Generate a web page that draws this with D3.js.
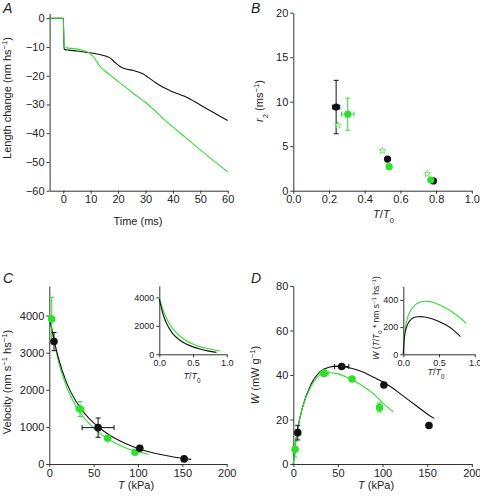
<!DOCTYPE html>
<html><head><meta charset="utf-8">
<script src="https://cdn.jsdelivr.net/npm/d3@7"></script>
<style>body{margin:0;background:#fff}svg{display:block}text{font-family:"Liberation Sans",Arial,sans-serif;fill:#222}</style>
</head><body><svg id="c" width="480" height="497"></svg>
<script>
// ---------- Panel A: length change traces ----------
const aBlackT = [-5, 0, 0.3, 2, 5, 8, 11, 14, 17, 19, 20.7, 23, 25.5, 29.2, 31, 34, 37, 39, 42, 45, 50, 55, 60];
const aBlackL = [0, 0, -10.8, -11.1, -11.4, -11.8, -12.2, -12.8, -13.8, -15.5, -16.8, -17.7, -18.2, -19.4, -20.6, -22.6, -24.3, -25.2, -26.4, -27.5, -30.2, -32.9, -35.6];
const aGreenT = [-5, 0, 0.3, 3, 6, 8, 9.7, 11, 12, 13.4, 15, 17, 20, 25.5, 30.4, 37.7, 45, 50, 55, 60];
const aGreenL = [0, 0, -10.2, -10.5, -10.9, -11.5, -12.2, -13.5, -14.8, -16.8, -18.2, -19.7, -22.0, -26.1, -29.6, -36.0, -41.8, -45.8, -49.7, -53.4];
const aXTicks = [0, 10, 20, 30, 40, 50, 60];
const aYTicks = [0, -10, -20, -30, -40, -50, -60];

// ---------- Panel B: r2 vs T/T0 ----------
const bBlackX = [0.24, 0.528, 0.785], bBlackY = [9.4, 3.55, 1.1], bBlackYErr = [3.0, 0, 0], bBlackXErr = [0.02, 0, 0];
const bGreenX = [0.305, 0.537, 0.77], bGreenY = [8.6, 2.7, 1.2], bGreenYErr = [1.8, 0, 0], bGreenXErr = [0.035, 0, 0];
const bOpenX = [0.25, 0.5, 0.75], bOpenY = [7.35, 4.5, 1.9];
const bXTicks = [0, 0.2, 0.4, 0.6, 0.8, 1.0];
const bYTicks = [0, 5, 10, 15, 20];

// ---------- Panel C: velocity vs T ----------
const cBlackT = [5.3, 55, 102, 152], cBlackV = [3300, 980, 423, 138], cBlackVErr = [245, 260, 0, 0], cBlackTErr = [0, 18, 0, 0];
const cGreenT = [2.7, 34.6, 65.8, 96.6], cGreenV = [3905, 1482, 692, 315], cGreenVErr = [590, 200, 0, 0], cGreenTErr = [0, 4.5, 0, 0];
const cBlackCurveT = [1, 3, 5, 10, 20, 30, 40, 50, 60, 70, 80, 90, 100, 110, 120, 130, 140, 150, 160];
const cBlackCurveV = [3850, 3600, 3380, 2880, 2160, 1690, 1360, 1110, 910, 750, 620, 510, 420, 345, 285, 235, 190, 155, 125];
const cGreenCurveT = [0, 3, 5, 10, 20, 30, 40, 50, 60, 70, 80, 90, 100, 112];
const cGreenCurveV = [4050, 3650, 3400, 2800, 2050, 1560, 1220, 970, 770, 620, 500, 400, 330, 260];
const cXTicks = [0, 50, 100, 150, 200];
const cYTicks = [0, 1000, 2000, 3000, 4000];
// inset C
const ciBlackX = [0, 0.05, 0.1, 0.15, 0.2, 0.3, 0.4, 0.5, 0.6, 0.7, 0.8, 0.85];
const ciBlackV = [3900, 2900, 2250, 1800, 1450, 1000, 720, 520, 370, 260, 170, 140];
const ciGreenX = [0, 0.05, 0.1, 0.15, 0.2, 0.3, 0.4, 0.5, 0.6, 0.7, 0.8, 0.9];
const ciGreenV = [4000, 3200, 2600, 2150, 1800, 1300, 950, 720, 540, 420, 320, 250];
const ciXTicks = [0, 0.5, 1.0];
const ciYTicks = [0, 2000, 4000];

// ---------- Panel D: power vs T ----------
const dBlackT = [5, 54.2, 101.5, 152], dBlackW = [14.1, 43.8, 35.5, 17.3], dBlackWErr = [3.3, 0, 0, 0], dBlackTErr = [0, 8, 0, 0];
const dGreenT = [2, 34.6, 65.8, 96.6], dGreenW = [6.6, 40.8, 38.2, 25.4], dGreenWErr = [3.5, 1.5, 0, 2], dGreenTErr = [0, 4.5, 0, 0];
const dBlackCurveT = [0, 2, 5, 10, 20, 30, 40, 50, 60, 70, 80, 90, 100, 110, 120, 130, 140, 150, 158];
const dBlackCurveW = [0, 8, 16, 25, 36, 41.5, 43.5, 44, 43.5, 42.5, 41, 39, 37, 34.5, 31.5, 28.5, 25.5, 22.5, 20.5];
const dGreenCurveT = [0, 2, 5, 10, 20, 30, 40, 50, 60, 70, 80, 90, 100, 112];
const dGreenCurveW = [0, 8, 16, 25, 35, 40, 41, 40.5, 39, 37, 34.5, 31.5, 27.5, 23.5];
const dXTicks = [0, 50, 100, 150, 200];
const dYTicks = [0, 20, 40, 60, 80];
// inset D
const diBlackX = [0, 0.01, 0.03, 0.06, 0.1, 0.15, 0.2, 0.25, 0.3, 0.4, 0.5, 0.6, 0.7, 0.8];
const diBlackW = [0, 100, 170, 220, 252, 270, 276, 277, 274, 262, 242, 215, 180, 130];
const diGreenX = [0, 0.01, 0.03, 0.06, 0.1, 0.15, 0.2, 0.25, 0.3, 0.35, 0.4, 0.5, 0.6, 0.7, 0.8, 0.88];
const diGreenW = [0, 110, 200, 270, 320, 355, 375, 386, 390, 389, 384, 365, 338, 305, 265, 228];
const diXTicks = [0, 0.5, 1.0];
const diYTicks = [0, 200, 400];

// ---------- drawing ----------
const svg = d3.select("#c");
const BLACK = "#111", GREEN = "#2ee02e", AX = "#333";

function axes(xs, ys, xt, yt, xf, yf, fs) {
  const gx = svg.append("g").attr("transform", `translate(0,${ys.range()[0]})`)
    .call(d3.axisBottom(xs).tickValues(xt).tickFormat(xf).tickSize(3).tickSizeOuter(0).tickPadding(2));
  const gy = svg.append("g").attr("transform", `translate(${xs.range()[0]},0)`)
    .call(d3.axisLeft(ys).tickValues(yt).tickFormat(yf).tickSize(3).tickSizeOuter(0).tickPadding(2));
  [gx, gy].forEach(g => {
    g.selectAll("path,line").attr("stroke", AX).attr("stroke-width", 1);
    g.selectAll("text").attr("font-size", fs).attr("fill", "#222")
      .style("font-family", '"Liberation Sans",Arial,sans-serif');
  });
}
function curve(xs, ys, X, Y, color, w) {
  svg.append("path").datum(d3.zip(X, Y))
    .attr("d", d3.line().x(d => xs(d[0])).y(d => ys(d[1])).curve(d3.curveMonotoneX))
    .attr("fill", "none").attr("stroke", color).attr("stroke-width", w || 1.2);
}
function points(xs, ys, X, Y, yErr, xErr, color, r) {
  const g = svg.append("g");
  d3.zip(X, Y, yErr, xErr).forEach(([x, y, ey, ex]) => {
    const px = xs(x), py = ys(y);
    if (ey > 0) {
      g.append("line").attr("x1", px).attr("x2", px).attr("y1", ys(y - ey)).attr("y2", ys(y + ey)).attr("stroke", color);
      [y - ey, y + ey].forEach(v => g.append("line").attr("x1", px - 2.5).attr("x2", px + 2.5).attr("y1", ys(v)).attr("y2", ys(v)).attr("stroke", color));
    }
    if (ex > 0) {
      g.append("line").attr("y1", py).attr("y2", py).attr("x1", xs(x - ex)).attr("x2", xs(x + ex)).attr("stroke", color);
      [x - ex, x + ex].forEach(v => g.append("line").attr("y1", py - 2.5).attr("y2", py + 2.5).attr("x1", xs(v)).attr("x2", xs(v)).attr("stroke", color));
    }
    g.append("circle").attr("cx", px).attr("cy", py).attr("r", r || 3.8).attr("fill", color);
  });
}
function label(x, y, parts, fs, rot, anchor) {
  const t = svg.append("text").attr("font-size", fs).attr("text-anchor", anchor || "middle")
    .attr("transform", `translate(${x},${y})` + (rot ? " rotate(-90)" : ""));
  parts.forEach(p => {
    const s = t.append("tspan").text(p.t);
    if (p.i) s.attr("font-style", "italic");
    if (p.sup) s.attr("baseline-shift", "super").attr("font-size", fs * 0.7);
    if (p.sub) s.attr("baseline-shift", "sub").attr("font-size", fs * 0.7);
  });
  return t;
}
const f0 = d3.format("d"), f1 = d3.format(".1f");

// Panel A
{
  const xs = d3.scaleLinear().domain([-5, 60]).range([49.6, 227.7]);
  const ys = d3.scaleLinear().domain([-60, 1.7]).range([190.7, 13.3]);
  axes(xs, ys, aXTicks, aYTicks, f0, f0, 11);
  curve(xs, ys, aBlackT, aBlackL, BLACK, 1.1);
  curve(xs, ys, aGreenT, aGreenL, GREEN, 1.1);
  label(138, 225, [{t: "Time (ms)"}], 11);
  label(11, 98, [{t: "Length change (nm hs"}, {t: "−1", sup: 1}, {t: ")"}], 11, 1);
  label(3, 13, [{t: "A", i: 1}], 14, 0, "start");
}
// Panel B
{
  const xs = d3.scaleLinear().domain([0, 1]).range([293.3, 471.8]);
  const ys = d3.scaleLinear().domain([0, 20]).range([190.7, 12.7]);
  axes(xs, ys, bXTicks, bYTicks, f1, f0, 11);
  points(xs, ys, bBlackX, bBlackY, bBlackYErr, bBlackXErr, BLACK, 3.6);
  points(xs, ys, bGreenX, bGreenY, bGreenYErr, bGreenXErr, GREEN, 3.6);
  d3.zip(bOpenX, bOpenY).forEach(([x, y]) => {
    svg.append("path").attr("d", d3.symbol(d3.symbolStar, 14)())
      .attr("transform", `translate(${xs(x)},${ys(y)})`)
      .attr("fill", "#fff").attr("stroke", GREEN).attr("stroke-width", 1).attr("stroke-dasharray", "1.2,0.6");
  });
  label(383.5, 218, [{t: "T", i: 1}, {t: "/"}, {t: "T", i: 1}, {t: "0", sub: 1}], 11);
  label(263, 101, [{t: "r", i: 1}, {t: "2", sub: 1}, {t: " (ms"}, {t: "−1", sup: 1}, {t: ")"}], 11, 1);
  label(251, 13, [{t: "B", i: 1}], 14, 0, "start");
}
// Panel C
{
  const xs = d3.scaleLinear().domain([0, 200]).range([49.3, 226.7]);
  const ys = d3.scaleLinear().domain([0, 4800]).range([464, 285.9]);
  axes(xs, ys, cXTicks, cYTicks, f0, f0, 11);
  curve(xs, ys, cGreenCurveT, cGreenCurveV, GREEN, 1.1);
  curve(xs, ys, cBlackCurveT, cBlackCurveV, BLACK, 1.1);
  points(xs, ys, cGreenT, cGreenV, cGreenVErr, cGreenTErr, GREEN, 3.8);
  points(xs, ys, cBlackT, cBlackV, cBlackVErr, cBlackTErr, BLACK, 3.8);
  label(136, 489, [{t: "T", i: 1}, {t: " (kPa)"}], 11);
  label(11, 382, [{t: "Velocity (nm s"}, {t: "−1", sup: 1}, {t: " hs"}, {t: "−1", sup: 1}, {t: ")"}], 11, 1);
  label(3, 283, [{t: "C", i: 1}], 14, 0, "start");
  // inset
  const ixs = d3.scaleLinear().domain([0, 1]).range([159.3, 226.7]);
  const iys = d3.scaleLinear().domain([0, 4800]).range([354.3, 285.9]);
  axes(ixs, iys, ciXTicks, ciYTicks, f1, f0, 9);
  curve(ixs, iys, ciGreenX, ciGreenV, GREEN, 1.1);
  curve(ixs, iys, ciBlackX, ciBlackV, BLACK, 1.1);
  label(192, 379, [{t: "T", i: 1}, {t: "/"}, {t: "T", i: 1}, {t: "0", sub: 1}], 9);
}
// Panel D
{
  const xs = d3.scaleLinear().domain([0, 200]).range([293.3, 471.8]);
  const ys = d3.scaleLinear().domain([0, 80]).range([464, 286]);
  axes(xs, ys, dXTicks, dYTicks, f0, f0, 11);
  curve(xs, ys, dBlackCurveT, dBlackCurveW, BLACK, 1.1);
  curve(xs, ys, dGreenCurveT, dGreenCurveW, GREEN, 1.1);
  points(xs, ys, dBlackT, dBlackW, dBlackWErr, dBlackTErr, BLACK, 3.8);
  points(xs, ys, dGreenT, dGreenW, dGreenWErr, dGreenTErr, GREEN, 3.8);
  label(376, 489, [{t: "T", i: 1}, {t: " (kPa)"}], 11);
  label(259, 375, [{t: "W", i: 1}, {t: " (mW g"}, {t: "−1", sup: 1}, {t: ")"}], 11, 1);
  label(251, 283, [{t: "D", i: 1}], 14, 0, "start");
  // inset
  const ixs = d3.scaleLinear().domain([0, 1]).range([403.3, 474.7]);
  const iys = d3.scaleLinear().domain([0, 500]).range([354.3, 286.3]);
  axes(ixs, iys, diXTicks, diYTicks, f1, f0, 9);
  curve(ixs, iys, diGreenX, diGreenW, GREEN, 1.1);
  curve(ixs, iys, diBlackX, diBlackW, BLACK, 1.1);
  label(436, 375, [{t: "T", i: 1}, {t: "/"}, {t: "T", i: 1}, {t: "0", sub: 1}], 9);
  label(379, 318, [{t: "W", i: 1}, {t: " ("}, {t: "T", i: 1}, {t: "/"}, {t: "T", i: 1}, {t: "0", sub: 1}, {t: " * nm s"}, {t: "−1", sup: 1}, {t: " hs"}, {t: "−1", sup: 1}, {t: ")"}], 8.5, 1);
}
</script></body></html>
